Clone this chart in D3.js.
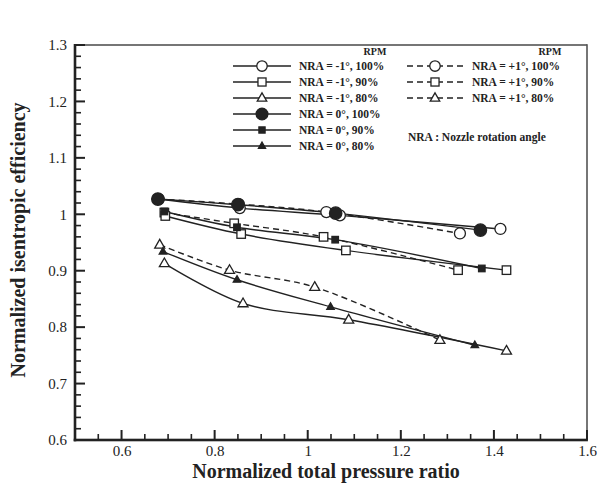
<!DOCTYPE html>
<html><head><meta charset="utf-8">
<script src="https://cdn.jsdelivr.net/npm/d3@7"></script>
<style>body{margin:0;background:#fff}svg{display:block}text{font-family:"Liberation Serif","Times New Roman",serif;fill:#222}</style>
</head><body><svg id="c" width="601" height="486"></svg>
<script>
// ---- data ----
const xTicks = [0.6, 0.8, 1.0, 1.2, 1.4, 1.6];
const yTicks = [0.6, 0.7, 0.8, 0.9, 1.0, 1.1, 1.2, 1.3];
const nraM1_100 = [[0.678,1.027],[0.854,1.011],[1.069,0.998],[1.414,0.974]];
const nraM1_90  = [[0.694,0.997],[0.857,0.965],[1.082,0.936],[1.427,0.901]];
const nraM1_80  = [[0.692,0.913],[0.861,0.842],[1.088,0.813],[1.427,0.758]];
const nra0_100  = [[0.678,1.027],[0.850,1.017],[1.060,1.002],[1.371,0.972]];
const nra0_90   = [[0.692,1.005],[0.848,0.977],[1.059,0.955],[1.374,0.904]];
const nra0_80   = [[0.689,0.934],[0.848,0.884],[1.049,0.836],[1.359,0.768]];
const nraP1_100 = [[0.680,1.027],[0.852,1.018],[1.040,1.004],[1.327,0.966]];
const nraP1_90  = [[0.692,1.003],[0.842,0.984],[1.034,0.960],[1.323,0.901]];
const nraP1_80  = [[0.682,0.946],[0.832,0.901],[1.015,0.871],[1.284,0.777]];
const seriesLabels = ["NRA = -1°, 100%","NRA = -1°, 90%","NRA = -1°, 80%","NRA = 0°, 100%","NRA = 0°, 90%","NRA = 0°, 80%","NRA = +1°, 100%","NRA = +1°, 90%","NRA = +1°, 80%"];

const series = [
  {d:nraM1_100, sym:"circle",   filled:false, dash:false},
  {d:nraM1_90,  sym:"square",   filled:false, dash:false},
  {d:nraM1_80,  sym:"triangle", filled:false, dash:false},
  {d:nra0_100,  sym:"circle",   filled:true,  dash:false},
  {d:nra0_90,   sym:"square",   filled:true,  dash:false},
  {d:nra0_80,   sym:"triangle", filled:true,  dash:false},
  {d:nraP1_100, sym:"circle",   filled:false, dash:true},
  {d:nraP1_90,  sym:"square",   filled:false, dash:true},
  {d:nraP1_80,  sym:"triangle", filled:false, dash:true}
].map((s,i)=>Object.assign(s,{label:seriesLabels[i]}));

const svg = d3.select("#c");
const L=75, R=587, T=45, B=440;
const x = d3.scaleLinear().domain([0.5,1.6]).range([L,R]);
const y = d3.scaleLinear().domain([0.6,1.3]).range([B,T]);
const ink = "#222";

const frame = svg.append("g").attr("class","frame");
function bar(x0,y0,w,h,c){ frame.append("rect").attr("x",x0).attr("y",y0).attr("width",w).attr("height",h).attr("fill",c||ink); }
// top and right thinner grey borders
bar(L, T-0.8, R-L, 1.6, "#555");
bar(R-0.8, T-0.8, 1.6, B-T+1, "#555");
// left and bottom heavy axis lines
bar(L-1.3, T-1, 2.6, B-T+2.3);
bar(L-1.3, B-1.3, R-L+2.2, 2.6);

// tick labels via d3 axes
const xAxis = d3.axisBottom(x).tickValues(xTicks).tickSize(0).tickPadding(5)
  .tickFormat(d=>String(+d.toFixed(1)));
const gx = svg.append("g").attr("transform",`translate(0,${B})`).call(xAxis);
const yAxis = d3.axisLeft(y).tickValues(yTicks).tickSize(0).tickPadding(8)
  .tickFormat(d=>String(+d.toFixed(1)));
const gy = svg.append("g").attr("transform",`translate(${L},0)`).call(yAxis);
[gx,gy].forEach(g=>{
  g.select(".domain").remove();
  g.selectAll(".tick line").remove();
  g.selectAll(".tick text").style("font-family","'Liberation Serif',serif").style("font-size","15px").attr("fill","#333");
});

// inward tick marks
const xMinor = d3.range(0.55,1.6,0.05).filter(v=>Math.abs(v/0.2-Math.round(v/0.2))>0.01);
const yMinor = d3.range(0.62,1.3,0.02).filter(v=>Math.abs(v/0.1-Math.round(v/0.1))>0.01);
xTicks.forEach(v=>bar(x(v)-1, B-10, 2, 10));
yTicks.forEach(v=>bar(L, y(v)-1, 10, 2));
xMinor.forEach(v=>bar(x(v)-0.8, B-6, 1.6, 6));
yMinor.forEach(v=>bar(L, y(v)-0.8, 6, 1.6));

// titles
svg.append("text").attr("x",326).attr("y",478).attr("text-anchor","middle")
  .style("font-size","20px").style("font-weight","bold").text("Normalized total pressure ratio");
svg.append("text").attr("transform","translate(25,240) rotate(-90)").attr("text-anchor","middle")
  .style("font-size","20px").style("font-weight","bold").text("Normalized isentropic efficiency");

// markers
function marker(g, sym, filled, cx, cy, scale){
  scale = scale||1;
  const fill = filled ? ink : "#fff";
  if(sym==="circle"){
    g.append("circle").attr("cx",cx).attr("cy",cy).attr("r",(filled?6.2:5.5)*scale)
      .attr("fill",fill).attr("stroke",ink).attr("stroke-width",1.3);
  } else if(sym==="square"){
    const s=(filled?6.5:8.5)*scale;
    g.append("rect").attr("x",cx-s/2).attr("y",cy-s/2).attr("width",s).attr("height",s)
      .attr("fill",fill).attr("stroke",ink).attr("stroke-width",1.3);
  } else {
    const s=(filled?7.5:10)*scale, h=s*0.87;
    g.append("path").attr("d",`M${cx},${cy-h*0.62}L${cx+s/2},${cy+h*0.38}L${cx-s/2},${cy+h*0.38}Z`)
      .attr("fill",fill).attr("stroke",ink).attr("stroke-width",1.3);
  }
}

const line = d3.line().x(d=>x(d[0])).y(d=>y(d[1])).curve(d3.curveCatmullRom.alpha(0.5));
const plot = svg.append("g");
series.forEach(s=>{
  plot.append("path").attr("d",line(s.d)).attr("fill","none").attr("stroke",ink)
    .attr("stroke-width",1.4).attr("stroke-dasharray",s.dash?"6,4":null);
});
const order = [6,7,8,0,1,2,3,4,5];
order.forEach(i=>{
  const s=series[i];
  s.d.forEach(p=>marker(plot,s.sym,s.filled,x(p[0]),y(p[1])));
});

// legend
const lg = svg.append("g").style("font-weight","bold").style("font-size","11.5px");
lg.append("text").attr("x",375).attr("y",55).attr("text-anchor","middle").style("font-size","10px").text("RPM");
lg.append("text").attr("x",550).attr("y",55).attr("text-anchor","middle").style("font-size","10px").text("RPM");
series.forEach((s,i)=>{
  const col = i<6?0:1, row = i<6?i:i-6;
  const yy = 66 + row*16;
  const x0 = col===0?233:407, x1 = col===0?291:463, tx = col===0?299:472;
  lg.append("line").attr("x1",x0).attr("x2",x1).attr("y1",yy).attr("y2",yy).attr("stroke",ink)
    .attr("stroke-width",1.4).attr("stroke-dasharray",s.dash?"6,4":null);
  marker(lg,s.sym,s.filled,(x0+x1)/2,yy,0.95);
  lg.append("text").attr("x",tx).attr("y",yy+4).text(s.label);
});
lg.append("text").attr("x",408).attr("y",141).text("NRA : Nozzle rotation angle");
</script></body></html>
